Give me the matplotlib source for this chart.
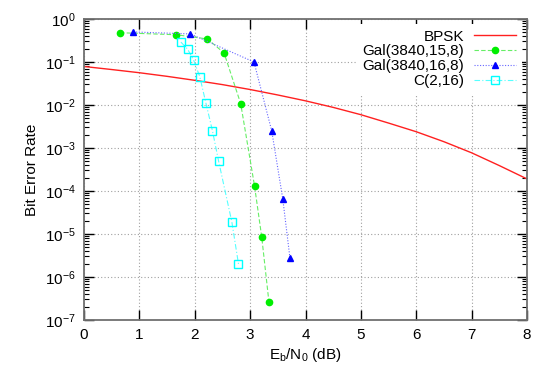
"""
Bit error rate vs Eb/N0 for BPSK and three LDPC-style codes.
Writes out.png (550x385).
"""

import matplotlib
matplotlib.use("Agg")
import matplotlib.pyplot as plt
from matplotlib.ticker import LogLocator, FixedLocator, NullFormatter

# ── Data ────────────────────────────────────────────────────────────────────
bpsk_ebn0 = [0, 0.5, 1, 1.5, 2, 2.5, 3, 3.5, 4, 4.5, 5, 5.5, 6, 6.5, 7, 7.5, 8]
bpsk_ber  = [7.86e-2, 6.68e-2, 5.63e-2, 4.64e-2, 3.75e-2, 2.98e-2, 2.29e-2,
             1.71e-2, 1.25e-2, 8.8e-3, 5.95e-3, 3.8e-3, 2.39e-3, 1.4e-3,
             7.73e-4, 3.9e-4, 1.91e-4]

gal15_ebn0 = [0.65, 1.67, 2.23, 2.53, 2.83, 3.08, 3.21, 3.34]
gal15_ber  = [0.48, 0.43, 0.343, 0.162, 1.07e-2, 1.3e-4, 8.4e-6, 2.6e-7]

gal16_ebn0 = [0.89, 1.92, 3.07, 3.39, 3.59, 3.72]
gal16_ber  = [0.50, 0.45, 0.10, 2.5e-3, 6.5e-5, 2.7e-6]

c216_ebn0 = [1.75, 1.87, 1.98, 2.09, 2.20, 2.32, 2.43, 2.67, 2.79]
c216_ber  = [0.29, 0.20, 0.11, 4.6e-2, 1.13e-2, 2.5e-3, 5.0e-4, 1.9e-5, 2.0e-6]

labels = ["BPSK", "Gal(3840,15,8)", "Gal(3840,16,8)", "C(2,16)"]

# ── Style ───────────────────────────────────────────────────────────────────
plt.rcParams["font.family"] = ["Liberation Sans", "DejaVu Sans"]
plt.rcParams["mathtext.fontset"] = "custom"
plt.rcParams["mathtext.rm"] = "Liberation Sans"
plt.rcParams["mathtext.it"] = "Liberation Sans"
plt.rcParams["mathtext.default"] = "regular"

fig = plt.figure(figsize=(5.5, 3.85), dpi=100)
ax = fig.add_axes([84 / 550, 65 / 385, 443 / 550, 301 / 385])

ax.plot(bpsk_ebn0, bpsk_ber, color="#ff2020", lw=1.0, label=labels[0])
ax.plot(gal15_ebn0, gal15_ber, color="#66ee66", lw=0.8, ls=(0, (4, 2)),
        marker="o", ms=4.5, mfc="#00ee00", mec="#00ee00", label=labels[1])
ax.plot(gal16_ebn0, gal16_ber, color="#6666ff", lw=0.8, ls=(0, (1, 1.5)),
        marker="^", ms=4.5, mfc="#0000ff", mec="#0000ff", label=labels[2])
ax.plot(c216_ebn0, c216_ber, color="#55ffff", lw=0.8, ls=(0, (5, 2, 1, 2)),
        marker="s", ms=5.5, mfc="none", mec="#00ffff", mew=1.0, label=labels[3])

ax.set_yscale("log")
ax.set_xlim(0, 8)
ax.set_ylim(1e-7, 1)

ax.xaxis.set_major_locator(FixedLocator(range(0, 9)))
ax.yaxis.set_major_locator(LogLocator(base=10, numticks=10))
ax.yaxis.set_minor_locator(LogLocator(base=10, subs=range(2, 10), numticks=20))
ax.yaxis.set_minor_formatter(NullFormatter())

ax.tick_params(which="both", direction="in", top=True, right=True,
               labelsize=11, colors="black")
ax.tick_params(which="major", length=7, width=1.0, pad=6)
ax.tick_params(which="minor", length=3.5, width=0.8)
for sp in ax.spines.values():
    sp.set_color("#707070")
    sp.set_linewidth(1.3)

ax.grid(True, which="major", color="#a0a0a0", ls=(0, (1, 2)), lw=0.8)

ax.set_xlabel(r"E$_\mathrm{b}$/N$_0$ (dB)", fontsize=11, labelpad=3)
ax.set_ylabel("Bit Error Rate", fontsize=11, labelpad=4)

leg = ax.legend(loc="upper right", markerfirst=False, fontsize=11,
                labelspacing=0.05, handlelength=2.8, handletextpad=0.6,
                borderaxespad=0.3, frameon=True, fancybox=False,
                facecolor="white", edgecolor="none", framealpha=1.0)
for t in leg.get_texts():
    t.set_ha("right")
leg._legend_box.align = "right"

fig.savefig("out.png", dpi=100)
